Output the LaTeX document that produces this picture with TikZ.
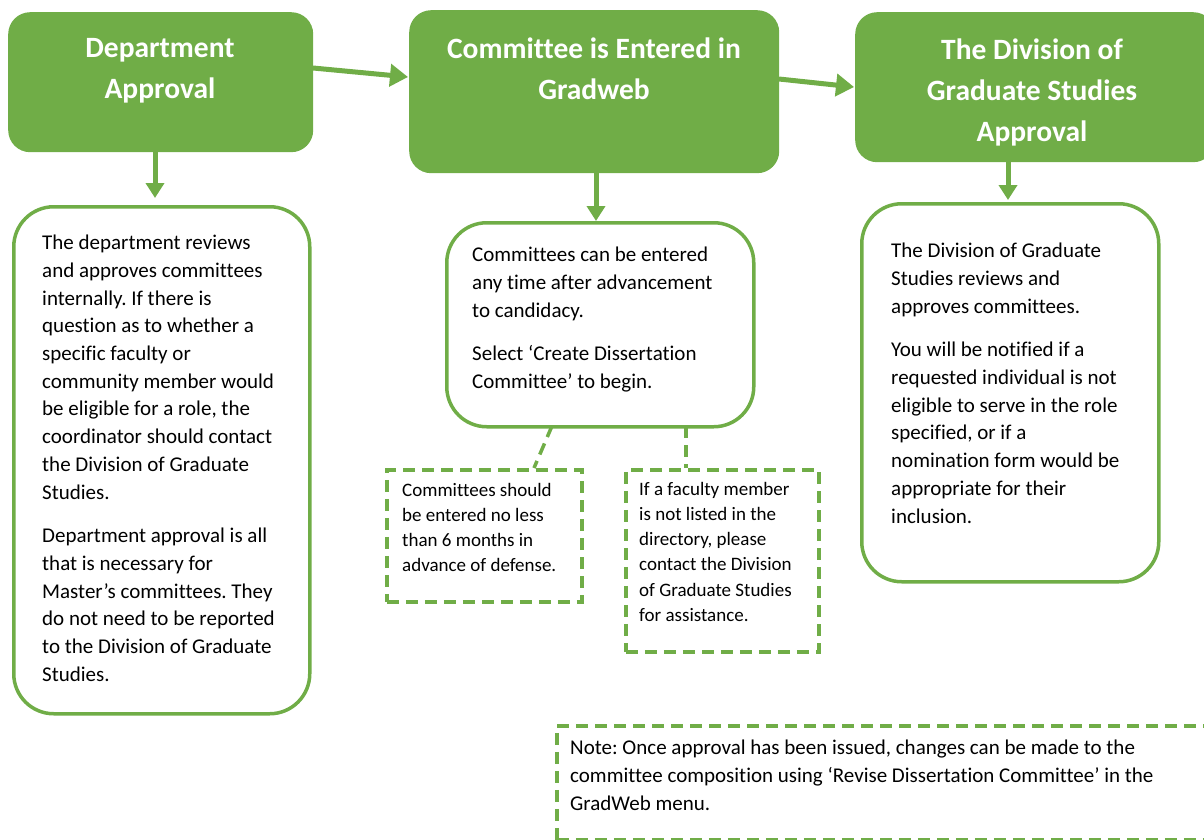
\documentclass[tikz,border=0pt]{standalone}
\usepackage{fontspec}
\setmainfont{Carlito}[Ligatures=NoCommon]
\usetikzlibrary{arrows.meta}
\definecolor{grn}{HTML}{70AD47}
\tikzset{
  x=1pt,y=-1pt,
  head/.style={fill=grn,draw=none,rounded corners=22pt,anchor=north west,inner sep=0pt},
  headtxt/.style={text=white,font=\fontsize{29.5}{41}\selectfont\bfseries,align=center,anchor=north,inner sep=0pt},
  wbox/.style={draw=grn,line width=3.5pt,rounded corners=40pt,anchor=north west,inner sep=0pt},
  dbox/.style={draw=grn,line width=3.5pt,dash pattern=on 12pt off 7pt,anchor=north west,inner sep=0pt},
  body/.style={font=\fontsize{21}{27.7}\selectfont,align=left,anchor=north west,inner sep=0pt},
  small/.style={font=\fontsize{19}{25.2}\selectfont,align=left,anchor=north west,inner sep=0pt},
  harrow/.style={draw=grn,line width=5pt,-{Triangle[length=18pt,width=22pt]}},
  varrow/.style={draw=grn,line width=5pt,-{Triangle[length=15pt,width=18pt]}},
  dconn/.style={draw=grn,line width=3.5pt,dash pattern=on 12pt off 7pt},
}
\frenchspacing
\begin{document}
\begin{tikzpicture}
\useasboundingbox (0,0) rectangle (1204,840);
% header boxes
\node[head,minimum width=305pt,minimum height=140pt] (h1) at (8,12) {};
\node[head,minimum width=370pt,minimum height=163pt] (h2) at (409,10) {};
\node[head,minimum width=360pt,minimum height=150pt] (h3) at (855,12) {};
\node[headtxt] (t1) at (160,38) {Department\\Approval};
\node[headtxt] (t2) at (594,38) {Committee is Entered in\\Gradweb};
\node[headtxt] (t3) at (1032,39) {The Division of\\Graduate Studies\\Approval};
% body boxes
\node[wbox,minimum width=296pt,minimum height=507pt] (b1) at (12,205) {};
\node[wbox,minimum width=307pt,minimum height=204pt] (b2) at (445,221) {};
\node[wbox,minimum width=297pt,minimum height=378pt] (b3) at (860,202) {};
% dashed boxes
\node[dbox,minimum width=195pt,minimum height=132pt] (d1) at (385,468) {};
\node[dbox,minimum width=193pt,minimum height=182pt] (d2) at (624,468) {};
\node[dbox,minimum width=652pt,minimum height=114pt] (d3) at (555,724) {};
% coordinates for connectors
\coordinate (a1s) at (313,68);
\coordinate (a1e) at (408,77);
\coordinate (a2s) at (779,79);
\coordinate (a2e) at (854,87);
\draw[harrow] (a1s) -- (a1e);
\draw[harrow] (a2s) -- (a2e);
\draw[varrow] (h1.south -| 155,0) -- (155,198);
\draw[varrow] (h2.south -| 596,0) -- (596,221);
\draw[varrow] (h3.south -| 1008,0) -- (1008,200);
\coordinate (c1s) at (552,426);
\coordinate (c1e) at (534,468);
\draw[dconn] (c1s) -- (c1e);
\coordinate (c2s) at (686,426);
\draw[dconn] (c2s) -- (c2s |- d2.north);
% texts
\node[body] (x1) at (42,235) {The department reviews\\and approves committees\\internally. If there is\\question as to whether a\\specific faculty or\\community member would\\be eligible for a role, the\\coordinator should contact\\the Division of Graduate\\Studies.\\[16pt]Department approval is all\\that is necessary for\\Master’s committees. They\\do not need to be reported\\to the Division of Graduate\\Studies.};
\node[body] (x2) at (472,247) {Committees can be entered\\any time after advancement\\to candidacy.\\[16pt]Select ‘Create Dissertation\\Committee’ to begin.};
\node[body] (x3) at (891,243) {The Division of Graduate\\Studies reviews and\\approves committees.\\[16pt]You will be notified if a\\requested individual is not\\eligible to serve in the role\\specified, or if a\\nomination form would be\\appropriate for their\\inclusion.};
\node[small] (x4) at (402,483) {Committees should\\be entered no less\\than 6 months in\\advance of defense.};
\node[small] (x5) at (639,482) {If a faculty member\\is not listed in the\\directory, please\\contact the Division\\of Graduate Studies\\for assistance.};
\node[body] (x6) at (570,740) {Note: Once approval has been issued, changes can be made to the\\committee composition using ‘Revise Dissertation Committee’ in the\\GradWeb menu.};
\end{tikzpicture}
\end{document}
